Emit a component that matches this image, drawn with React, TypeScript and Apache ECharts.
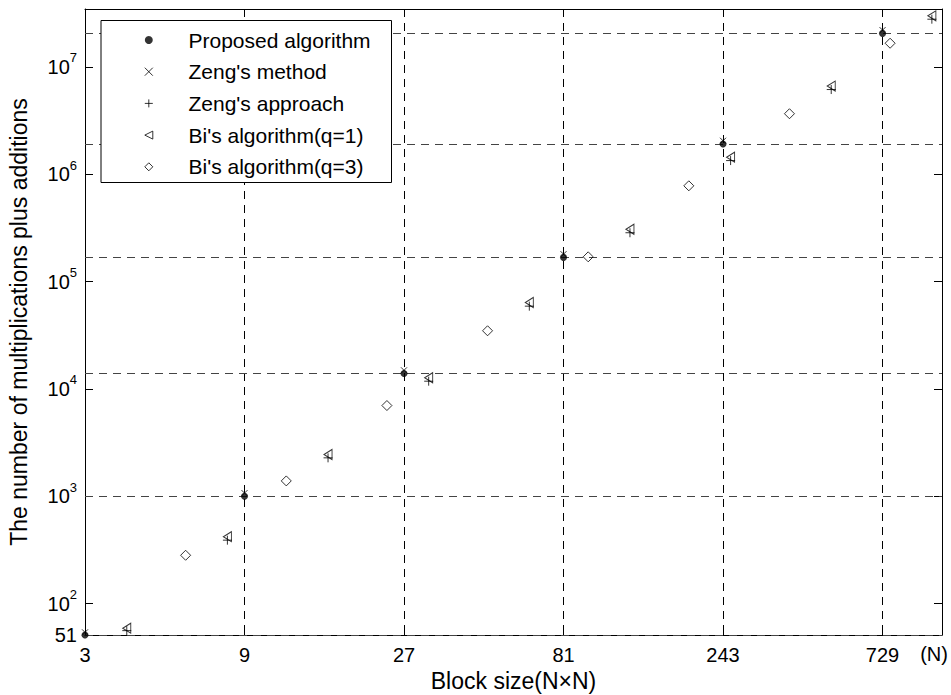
import React, { useEffect, useRef } from 'react';
import * as echarts from 'echarts';

// ---- data ----
const xProposed = [3, 9, 27, 81, 243, 729];
const proposedValues = [51, 1000, 13900, 168000, 1910000, 20500000];
const zengMethodValues = [54, 1070, 14900, 180000, 2050000, 22000000];
const xPow2 = [4, 8, 16, 32, 64, 128, 256, 512, 1024];
const biQ1Values = [59, 420, 2450, 12700, 63800, 307000, 1440000, 6620000, 29900000];
const zengApproachValues = [56, 390, 2280, 11800, 59000, 285000, 1340000, 6150000, 27800000];
const xBiQ3 = [6, 12, 24, 48, 96, 192, 384, 768];
const biQ3Values = [282, 1390, 7000, 34800, 170000, 780000, 3660000, 16600000];
const xTickLabels = [3, 9, 27, 81, 243, 729];
const yTickPowers = [2, 3, 4, 5, 6, 7];
const yMinLabel = 51;
const legendNames = [
  'Proposed algorithm',
  "Zeng's method",
  "Zeng's approach",
  "Bi's algorithm(q=1)",
  "Bi's algorithm(q=3)",
];

const X_MIN = 3;
const X_MAX = 1098;
const Y_MIN = 51;
const Y_MAX = 3.46e7;

const FONT = '"Liberation Sans", Arial, Helvetica, sans-serif';
const CROSS = 'path://M0,0L10,10M10,0L0,10';
const PLUS = 'path://M5,0L5,10M0,5L10,5';
const TRI_LEFT = 'path://M10,0L10,10L0,5Z';
const DIAMOND = 'path://M5,0L10,5L5,10L0,5Z';

const pairs = (xs: number[], ys: number[]) => xs.map((x, i) => [x, ys[i]]);

export default function App() {
  const ref = useRef<HTMLDivElement>(null);
  useEffect(() => {
    document.body.style.margin = '0';
    if (!ref.current) return;
    const chart = echarts.init(ref.current, undefined, { renderer: 'svg' });
    const hollow = { color: 'transparent', borderColor: '#000', borderWidth: 1 };
    const option: any = {
      animation: false,
      backgroundColor: '#fff',
      textStyle: { fontFamily: FONT },
      grid: { left: 85, right: 9, top: 9, bottom: 60, outerBoundsMode: 'none' },
      legend: {
        orient: 'vertical',
        left: 144.3,
        top: 29.5,
        padding: 0,
        itemWidth: 69.4,
        itemHeight: 8,
        itemGap: 10.7,
        z: 10,
        selectedMode: false,
        textStyle: { fontSize: 21, fontFamily: FONT, color: '#000', lineHeight: 21 },
        data: [
          { name: legendNames[0], icon: 'circle', itemStyle: { color: '#000', borderWidth: 0 } },
          { name: legendNames[1], icon: CROSS, itemStyle: hollow },
          { name: legendNames[2], icon: PLUS, itemStyle: hollow },
          { name: legendNames[3], icon: TRI_LEFT, itemStyle: hollow },
          { name: legendNames[4], icon: DIAMOND, itemStyle: hollow },
        ],
      },
      graphic: [
        {
          type: 'rect',
          z: 9,
          shape: { x: 101, y: 20.5, width: 290.5, height: 162 },
          style: { fill: '#fff', stroke: '#000', lineWidth: 1 },
        },
        {
          type: 'text',
          x: 934,
          y: 654,
          style: { text: '(N)', fontSize: 20, fontFamily: FONT, fill: '#000', align: 'center', verticalAlign: 'middle' },
        },
      ],
      xAxis: [
        {
          type: 'log',
          logBase: 3,
          min: X_MIN,
          max: X_MAX,
          name: 'Block size(N\u00d7N)',
          nameLocation: 'middle',
          nameGap: 34,
          nameTextStyle: { fontSize: 23, fontFamily: FONT, color: '#000', verticalAlign: 'top' },
          axisLine: { show: true, lineStyle: { color: '#000', width: 1 } },
          axisTick: { show: true, inside: true, length: 8, lineStyle: { color: '#000' } },
          minorTick: { show: false },
          axisLabel: {
            margin: 10,
            fontSize: 20,
            fontFamily: FONT,
            color: '#000',
            showMaxLabel: false,
            formatter: (v: number) => {
              const r = Math.round(v);
              return xTickLabels.includes(r) && Math.abs(v - r) < 1e-6 ? String(r) : '';
            },
          },
          splitLine: { show: true, lineStyle: { color: '#000', width: 1, type: [8, 6] } },
        },
        {
          type: 'log',
          logBase: 3,
          min: X_MIN,
          max: X_MAX,
          position: 'top',
          axisLine: { show: true, lineStyle: { color: '#000', width: 1 } },
          axisTick: { show: true, inside: true, length: 8, lineStyle: { color: '#000' } },
          axisLabel: { show: false },
          splitLine: { show: false },
        },
      ],
      yAxis: [
        {
          type: 'log',
          logBase: 10,
          min: Y_MIN,
          max: Y_MAX,
          name: 'The number of multiplications plus additions',
          nameLocation: 'middle',
          nameGap: 55,
          nameTextStyle: { fontSize: 23, fontFamily: FONT, color: '#000' },
          axisLine: { show: true, lineStyle: { color: '#000', width: 1 } },
          axisTick: { show: true, inside: true, length: 8, lineStyle: { color: '#000' } },
          axisLabel: {
            margin: 8,
            color: '#000',
            fontFamily: FONT,
            showMaxLabel: false,
            formatter: (v: number) => {
              if (Math.abs(v - yMinLabel) < 0.5) return `{b|${yMinLabel}}`;
              const lg = Math.log10(v);
              const p = Math.round(lg);
              if (Math.abs(lg - p) < 1e-6 && yTickPowers.includes(p)) return `{b|10}{s|${p}}`;
              return '';
            },
            rich: {
              b: { fontSize: 20, fontFamily: FONT, color: '#000', lineHeight: 31 },
              s: { fontSize: 13, fontFamily: FONT, color: '#000', lineHeight: 13, padding: [0, 0, 18, 0] },
            },
          },
          splitLine: { show: false },
        },
        {
          type: 'log',
          logBase: 10,
          min: Y_MIN,
          max: Y_MAX,
          position: 'right',
          axisLine: { show: true, lineStyle: { color: '#000', width: 1 } },
          axisTick: { show: true, inside: true, length: 8, lineStyle: { color: '#000' } },
          axisLabel: { show: false },
          splitLine: { show: false },
        },
      ],
      series: [
        {
          name: legendNames[1],
          type: 'scatter',
          z: 2,
          symbol: CROSS,
          symbolSize: 6,
          itemStyle: hollow,
          data: pairs(xProposed, zengMethodValues),
        },
        {
          name: legendNames[0],
          type: 'scatter',
          z: 3,
          symbol: 'circle',
          symbolSize: 7,
          itemStyle: { color: '#000' },
          data: pairs(xProposed, proposedValues),
          markLine: {
            silent: true,
            symbol: ['none', 'none'],
            label: { show: false },
            lineStyle: { color: '#444', width: 1, type: [8, 6] },
            z: 1,
            data: proposedValues.map((v) => ({ yAxis: v })),
          },
        },
        {
          name: legendNames[2],
          type: 'scatter',
          z: 2,
          symbol: PLUS,
          symbolSize: 9,
          itemStyle: hollow,
          data: pairs(xPow2, zengApproachValues),
        },
        {
          name: legendNames[3],
          type: 'scatter',
          z: 2,
          symbol: TRI_LEFT,
          symbolSize: [8, 10],
          itemStyle: hollow,
          data: pairs(xPow2, biQ1Values),
        },
        {
          name: legendNames[4],
          type: 'scatter',
          z: 2,
          symbol: DIAMOND,
          symbolSize: [10, 10],
          itemStyle: hollow,
          data: pairs(xBiQ3, biQ3Values),
        },
      ],
    };
    chart.setOption(option);
    return () => chart.dispose();
  }, []);
  return <div ref={ref} style={{ width: 951, height: 695 }} />;
}
